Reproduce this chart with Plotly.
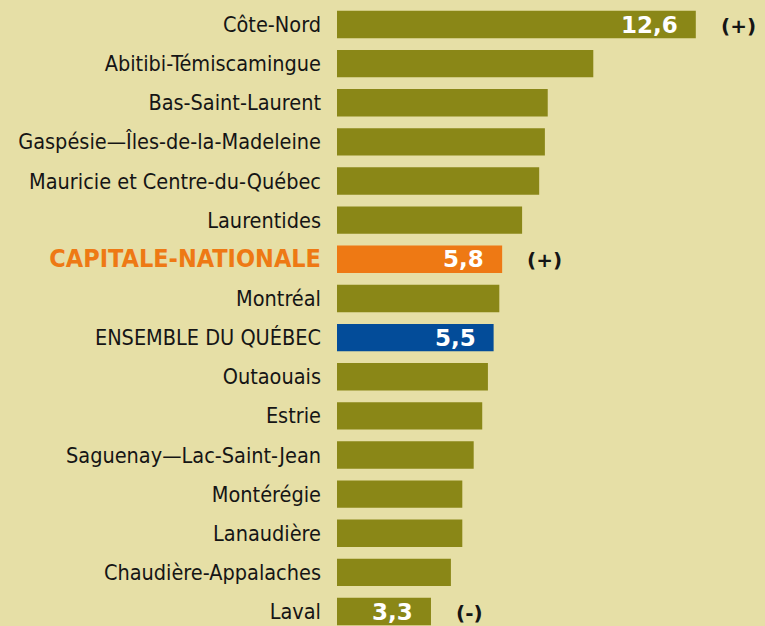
import plotly.graph_objects as go

# ---- data ----
regions = [
    "Côte-Nord",
    "Abitibi-Témiscamingue",
    "Bas-Saint-Laurent",
    "Gaspésie—Îles-de-la-Madeleine",
    "Mauricie et Centre-du-Québec",
    "Laurentides",
    "CAPITALE-NATIONALE",
    "Montréal",
    "ENSEMBLE DU QUÉBEC",
    "Outaouais",
    "Estrie",
    "Saguenay—Lac-Saint-Jean",
    "Montérégie",
    "Lanaudière",
    "Chaudière-Appalaches",
    "Laval",
]
rates = [12.6, 9.0, 7.4, 7.3, 7.1, 6.5, 5.8, 5.7, 5.5, 5.3, 5.1, 4.8, 4.4, 4.4, 4.0, 3.3]
show_value = [True, False, False, False, False, False, True, False, True,
              False, False, False, False, False, False, True]
significance = ["(+)", "", "", "", "", "", "(+)", "", "", "", "", "", "", "", "", "(-)"]
highlight = {"CAPITALE-NATIONALE": "capitale", "ENSEMBLE DU QUÉBEC": "quebec"}

# ---- styles ----
BG = "#E6DFA6"
OLIVE = "#8A8717"
ORANGE = "#EE7914"
BLUE = "#034C99"
TEXT = "#151515"

color_map = {"capitale": ORANGE, "quebec": BLUE}
bar_colors = [color_map.get(highlight.get(r, ""), OLIVE) for r in regions]

def tick_label(r):
    if highlight.get(r) == "capitale":
        return f"<b><span style='color:{ORANGE};font-size:25px'>{r}</span></b>"
    return r

ticktext = [tick_label(r) for r in regions]

fig = go.Figure(
    go.Bar(
        y=regions,
        x=rates,
        orientation="h",
        width=0.7,
        marker=dict(color=bar_colors, line=dict(width=0)),
        hoverinfo="skip",
    )
)

annotations = []
for r, v, sv, sig in zip(regions, rates, show_value, significance):
    if sv:
        annotations.append(dict(
            x=v, y=r, xref="x", yref="y", text=f"{v:.1f}".replace(".", ","),
            xanchor="right", yanchor="middle", xshift=-16, showarrow=False,
            font=dict(family="DejaVu Sans", size=23, color="white", weight="bold"),
        ))
    if sig:
        annotations.append(dict(
            x=v, y=r, xref="x", yref="y", text=sig,
            xanchor="left", yanchor="middle", xshift=23, yshift=-1, showarrow=False,
            font=dict(family="DejaVu Sans", size=20, color=TEXT, weight="bold"),
        ))

fig.update_layout(
    width=765,
    height=626,
    margin=dict(l=337, r=0, t=0, b=0, autoexpand=False),
    paper_bgcolor=BG,
    plot_bgcolor=BG,
    showlegend=False,
    annotations=annotations,
    xaxis=dict(range=[0, 15.03], visible=False, fixedrange=True),
    yaxis=dict(
        type="category",
        range=[15.37, -0.626],
        tickvals=regions,
        ticktext=ticktext,
        showgrid=False,
        zeroline=False,
        showline=False,
        ticks="",
        ticklabelstandoff=15,
        automargin=False,
        tickfont=dict(family="DejaVu Sans Condensed, sans-serif",
                      size=21.5, color=TEXT),
        fixedrange=True,
    ),
)

fig.write_html(
    "out.html",
    config={"displayModeBar": False},
    post_script="document.body.style.margin='0';document.body.style.overflow='hidden';",
)
